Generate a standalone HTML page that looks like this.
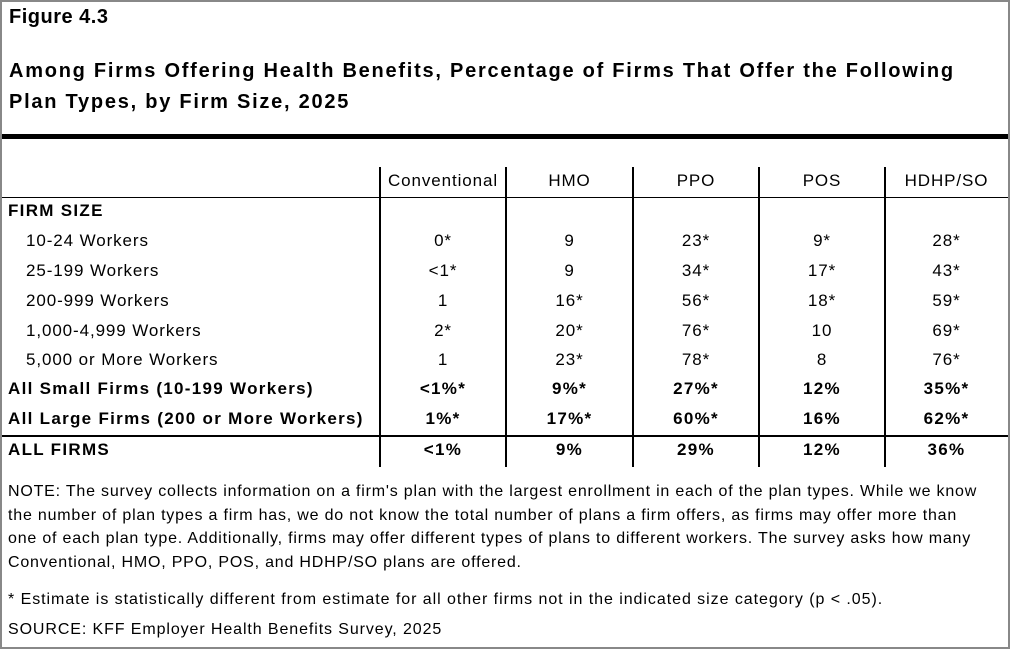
<!DOCTYPE html>
<html><head><style>
body{margin:0;width:1010px;height:649px;position:relative;font-family:"Liberation Sans",Arial,sans-serif;color:#000;background:#fff;overflow:hidden}
.box{position:absolute;left:0;top:0;width:1006px;height:645px;border:2px solid #888}
.t{position:absolute;white-space:nowrap}
.b{font-weight:bold}
.hl{position:absolute;background:#000}
.c{position:absolute;text-align:center;font-size:17px;letter-spacing:0.9px;white-space:nowrap}
</style></head><body>
<div class="box"></div>
<div class="t b" style="left:9px;top:6px;font-size:20px;letter-spacing:0.5px">Figure 4.3</div>
<div class="t b" style="left:9px;top:56px;font-size:20px;letter-spacing:1.75px;line-height:31px">Among Firms Offering Health Benefits, Percentage of Firms That Offer the Following<br>Plan Types, by Firm Size, 2025</div>
<div class="hl" style="left:2px;top:134px;width:1006px;height:5px"></div>
<div class="hl" style="left:2px;top:197px;width:1006px;height:1px"></div>
<div class="hl" style="left:2px;top:435px;width:1006px;height:2px"></div>
<div class="hl" style="left:379px;top:167px;width:2px;height:300px"></div>
<div class="hl" style="left:505px;top:167px;width:2px;height:300px"></div>
<div class="hl" style="left:632px;top:167px;width:2px;height:300px"></div>
<div class="hl" style="left:758px;top:167px;width:2px;height:300px"></div>
<div class="hl" style="left:884px;top:167px;width:2px;height:300px"></div>
<div id="tbl"></div>
<script>
var cols=[380,506,633,759,885,1008];
var rows=[
["",181,["Conventional","HMO","PPO","POS","HDHP/SO"],0,0],
["FIRM SIZE",211,null,1,8],
["10-24 Workers",241,["0*","9","23*","9*","28*"],0,26],
["25-199 Workers",271,["<1*","9","34*","17*","43*"],0,26],
["200-999 Workers",301,["1","16*","56*","18*","59*"],0,26],
["1,000-4,999 Workers",331,["2*","20*","76*","10","69*"],0,26],
["5,000 or More Workers",360,["1","23*","78*","8","76*"],0,26],
["All Small Firms (10-199 Workers)",389,["<1%*","9%*","27%*","12%","35%*"],1,8],
["All Large Firms (200 or More Workers)",419,["1%*","17%*","60%*","16%","62%*"],1,8],
["ALL FIRMS",450,["<1%","9%","29%","12%","36%"],1,8]];
var h="";
rows.forEach(function(r){
 var w=r[3]?"font-weight:bold;letter-spacing:1.3px;":"";
 if(r[0])h+='<div class="c" style="text-align:left;left:'+r[4]+'px;top:'+(r[1]-10)+'px;'+w+'">'+r[0].replace(/</g,"&lt;")+'</div>';
 if(r[2])r[2].forEach(function(v,i){h+='<div class="c" style="left:'+cols[i]+'px;width:'+(cols[i+1]-cols[i])+'px;top:'+(r[1]-10)+'px;'+w+'">'+v.replace(/</g,"&lt;")+'</div>';});
});
document.getElementById("tbl").innerHTML=h;
</script>
<div class="t" style="left:8px;top:480px;font-size:16px;letter-spacing:0.8px;line-height:23.7px;white-space:normal;width:975px">NOTE: The survey collects information on a firm's plan with the largest enrollment in each of the plan types. While we know the number of plan types a firm has, we do not know the total number of plans a firm offers, as firms may offer more than one of each plan type. Additionally, firms may offer different types of plans to different workers. The survey asks how many Conventional, HMO, PPO, POS, and HDHP/SO plans are offered.</div>
<div class="t" style="left:8px;top:591px;font-size:16px;letter-spacing:0.95px">* Estimate is statistically different from estimate for all other firms not in the indicated size category (p &lt; .05).</div>
<div class="t" style="left:8px;top:621px;font-size:16px;letter-spacing:0.9px">SOURCE: KFF Employer Health Benefits Survey, 2025</div>
</body></html>
